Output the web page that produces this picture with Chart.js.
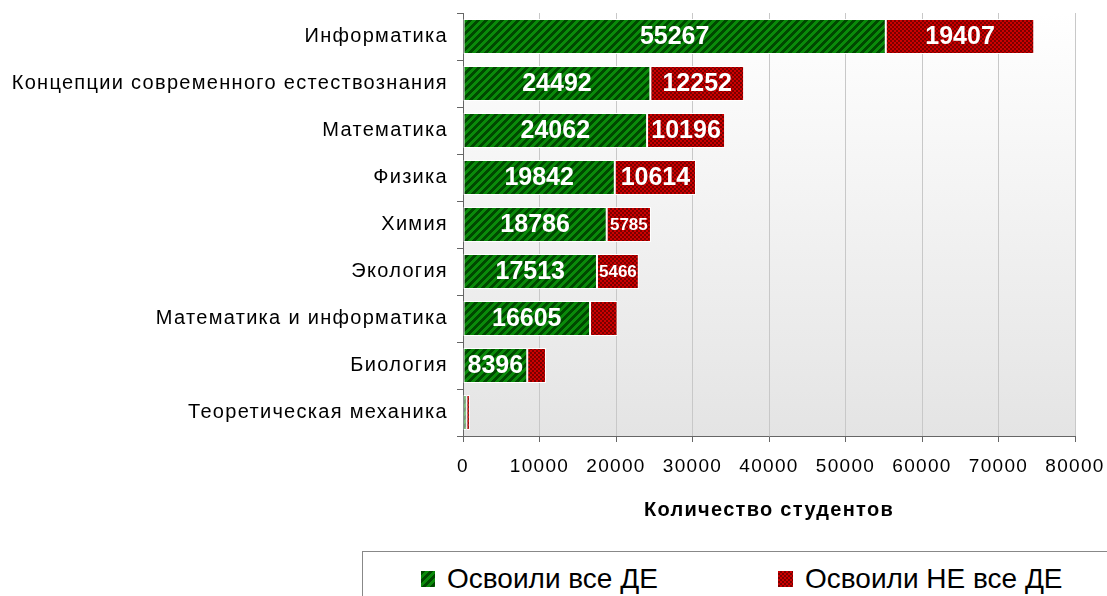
<!DOCTYPE html>
<html>
<head>
<meta charset="utf-8">
<script src="https://cdn.jsdelivr.net/npm/chart.js@4/dist/chart.umd.min.js"></script>
<style>
    body { margin: 0; background: #ffffff; overflow: hidden; }
    #wrap { position: relative; width: 1107px; height: 596px; }
    #legend {
        position: absolute; left: 362px; top: 551px; width: 800px; height: 70px;
        border: 1px solid #888888; background: #ffffff;
        font-family: 'Liberation Sans', Arial, sans-serif; font-size: 28px; color: #000;
    }
    .item { position: absolute; top: 11px; display: flex; align-items: center; }
    .item canvas { margin-right: 12px; }
</style>
</head>
<body>
<div id="wrap">
    <canvas id="chart" width="1107" height="596"></canvas>
    <div id="legend">
        <div class="item" style="left:58px"><canvas id="sw0" width="14" height="16"></canvas><span id="lg0"></span></div>
        <div class="item" style="left:415px"><canvas id="sw1" width="15" height="16"></canvas><span id="lg1"></span></div>
    </div>
</div>
<script>
// Data
const categories = [
    'Информатика',
    'Концепции современного естествознания',
    'Математика',
    'Физика',
    'Химия',
    'Экология',
    'Математика и информатика',
    'Биология',
    'Теоретическая механика'
];
const seriesNames = ['Освоили все ДЕ', 'Освоили НЕ все ДЕ'];
const passedAll = [55267, 24492, 24062, 19842, 18786, 17513, 16605, 8396, 450];
const passedNotAll = [19407, 12252, 10196, 10614, 5785, 5466, 3600, 2450, 450];
const xTicks = [0, 10000, 20000, 30000, 40000, 50000, 60000, 70000, 80000];
const axisTitle = 'Количество студентов';

const FONT = "'Liberation Sans', Arial, sans-serif";

// Fill patterns
function makePattern(size, colorFn) {
    const c = document.createElement('canvas');
    c.width = size; c.height = size;
    const g = c.getContext('2d');
    for (let y = 0; y < size; y++) {
        for (let x = 0; x < size; x++) {
            g.fillStyle = colorFn(x, y);
            g.fillRect(x, y, 1, 1);
        }
    }
    return document.getElementById('chart').getContext('2d').createPattern(c, 'repeat');
}
const greenPattern = makePattern(8, (x, y) => ((x + y) % 8) < 4 ? '#004800' : '#0a8a0a');
const redPattern = makePattern(4, (x, y) => ((Math.floor(x / 2) + Math.floor(y / 2)) % 2) ? '#7a0000' : '#cc0000');

// Legend swatches
function paintSwatch(id, pattern) {
    const c = document.getElementById(id);
    const g = c.getContext('2d');
    g.fillStyle = pattern;
    g.fillRect(0, 0, c.width, c.height);
}
paintSwatch('sw0', greenPattern);
paintSwatch('sw1', redPattern);
document.getElementById('lg0').textContent = seriesNames[0];
document.getElementById('lg1').textContent = seriesNames[1];

// Plot area gradient + the loose letter spacing of the axis texts
const plotBackground = {
    id: 'plotBackground',
    beforeDraw(chart) {
        const { ctx, chartArea: a } = chart;
        ctx.letterSpacing = '1.3px';
        const grad = ctx.createLinearGradient(0, a.top, 0, a.bottom);
        grad.addColorStop(0, '#ffffff');
        grad.addColorStop(1, '#e4e4e4');
        ctx.save();
        ctx.fillStyle = grad;
        ctx.fillRect(a.left, a.top, a.right - a.left, a.bottom - a.top);
        ctx.restore();
    },
    afterDraw(chart) {
        chart.ctx.letterSpacing = '0px';
    }
};

// Value labels inside bars
const barLabels = {
    id: 'barLabels',
    afterDatasetsDraw(chart) {
        const ctx = chart.ctx;
        ctx.save();
        ctx.letterSpacing = '0px';
        ctx.fillStyle = '#ffffff';
        ctx.textAlign = 'center';
        ctx.textBaseline = 'middle';
        chart.data.datasets.forEach((ds, i) => {
            chart.getDatasetMeta(i).data.forEach((bar, j) => {
                const w = Math.abs(bar.x - bar.base);
                const txt = String(ds.data[j]);
                for (const size of [25, 17]) {
                    ctx.font = 'bold ' + size + 'px ' + FONT;
                    if (ctx.measureText(txt).width <= w - 3) {
                        ctx.fillText(txt, (bar.x + bar.base) / 2, bar.y + 1);
                        break;
                    }
                }
            });
        });
        ctx.restore();
    }
};

new Chart(document.getElementById('chart'), {
    type: 'bar',
    data: {
        labels: categories,
        datasets: [
            {
                label: seriesNames[0],
                data: passedAll,
                backgroundColor: greenPattern,
                borderColor: '#ffffff',
                borderWidth: 1,
                borderSkipped: false
            },
            {
                label: seriesNames[1],
                data: passedNotAll,
                backgroundColor: redPattern,
                borderColor: '#ffffff',
                borderWidth: 1,
                borderSkipped: false
            }
        ]
    },
    options: {
        indexAxis: 'y',
        responsive: false,
        animation: false,
        layout: { padding: { top: 13, right: 32, bottom: 0, left: 0 } },
        datasets: { bar: { categoryPercentage: 1, barPercentage: 0.74 } },
        scales: {
            x: {
                stacked: true,
                min: 0,
                max: 80000,
                afterBuildTicks: (scale) => { scale.ticks = xTicks.map(v => ({ value: v })); },
                afterFit: (scale) => {
                    scale.height = 160;
                    scale.paddingLeft = 0;
                    scale.paddingRight = 0;
                },
                grid: { color: '#c8c8c8', tickColor: '#666666', tickLength: 6 },
                border: { color: '#666666' },
                ticks: {
                    color: '#000000',
                    padding: 13,
                    maxRotation: 0,
                    font: { family: FONT, size: 19 },
                    callback: (v) => String(v)
                },
                title: {
                    display: true,
                    text: axisTitle,
                    color: '#000000',
                    padding: { top: 0, bottom: 74 },
                    font: { family: FONT, size: 20, weight: 'bold' }
                }
            },
            y: {
                stacked: true,
                afterFit: (scale) => {
                    scale.width = 463;
                    scale.paddingTop = 0;
                    scale.paddingBottom = 0;
                },
                grid: { drawOnChartArea: false, color: '#666666', tickLength: 6 },
                border: { color: '#666666' },
                ticks: {
                    color: '#000000',
                    padding: 9,
                    font: { family: FONT, size: 20 }
                }
            }
        },
        plugins: {
            legend: { display: false },
            tooltip: { enabled: false }
        }
    },
    plugins: [plotBackground, barLabels]
});
</script>
</body>
</html>
